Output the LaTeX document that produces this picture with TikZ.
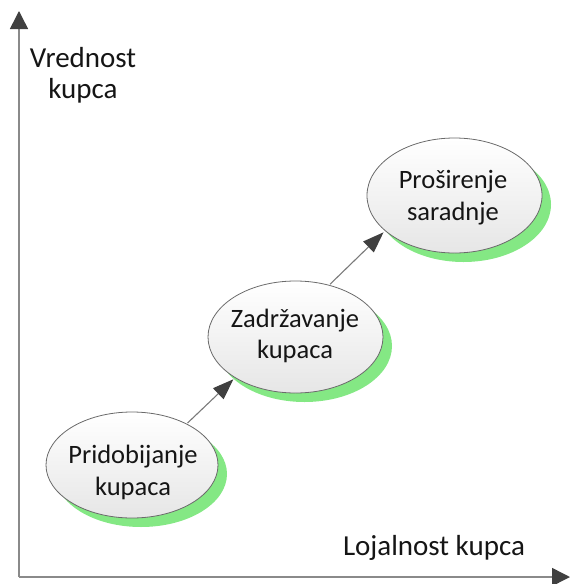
\documentclass[tikz,border=0pt]{standalone}
\usepackage{fontspec}
\setmainfont{Carlito}
\usetikzlibrary{shapes.geometric,arrows.meta,shadows}
\definecolor{axisgray}{HTML}{8A8A8A}
\definecolor{tipdark}{HTML}{404040}
\definecolor{linegray}{HTML}{7A7A7A}
\definecolor{rimgray}{HTML}{6A6A6A}
\definecolor{shadegreen}{HTML}{84E884}
\definecolor{fillbottom}{HTML}{E6E6E6}
\definecolor{txt}{HTML}{151515}
\tikzset{
  stage/.style={ellipse, draw=rimgray, line width=0.8pt, inner sep=0pt,
    top color=white, bottom color=fillbottom,
    drop shadow={shadow xshift=9pt, shadow yshift=-9pt, fill=shadegreen, opacity=1}},
  stagetext/.style={anchor=base, inner sep=0pt, text=txt, font=\fontsize{26.5}{32}\selectfont},
  axistext/.style={anchor=base, inner sep=0pt, text=txt, font=\fontsize{29}{35}\selectfont},
  axisline/.style={draw=axisgray, line width=1.5pt, -{Triangle[length=18pt,width=18pt,color=tipdark]}},
  flow/.style={draw=linegray, line width=1.1pt, shorten <=1pt, shorten >=2pt,
    -{Triangle[length=21pt,width=15pt,color=tipdark]}}
}
\begin{document}
\begin{tikzpicture}[x=1pt,y=-1pt]
\useasboundingbox (0,0) rectangle (571,584);
% axes
\coordinate (origin) at (19,577);
\coordinate (ytop) at (19,11);
\coordinate (xend) at (570,577);
\draw[axisline] (origin) -- (ytop);
\draw[axisline] (origin) -- (xend);
% axis labels
\node[axistext] (v1) at (83,67) {Vrednost};
\node[axistext] (v2) at (83,98) {kupca};
\node[axistext] (lk) at (434,555) {Lojalnost kupca};
% stages
\node[stage, minimum width=172pt, minimum height=106pt] (p) at (132,465) {};
\node[stage, minimum width=175pt, minimum height=112pt] (z) at (295.5,337) {};
\node[stage, minimum width=175pt, minimum height=115pt] (s) at (454.5,195.5) {};
% stage texts
\node[stagetext] (p1) at (133,463) {Pridobijanje};
\node[stagetext] (p2) at (133,495) {kupaca};
\node[stagetext] (z1) at (295,327) {Zadržavanje};
\node[stagetext] (z2) at (295,358) {kupaca};
\node[stagetext] (s1) at (453,188) {Proširenje};
\node[stagetext] (s2) at (453,220) {saradnje};
% connectors
\draw[flow] (p.37) -- (z.214);
\draw[flow] (z.57) -- (s.207);
\end{tikzpicture}
\end{document}
